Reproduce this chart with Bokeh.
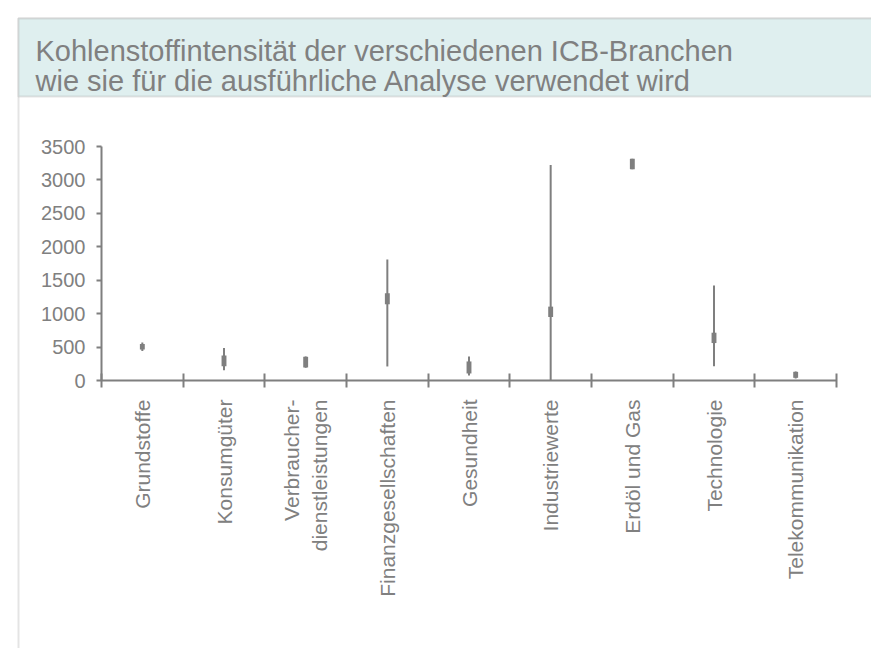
from bokeh.plotting import figure
from bokeh.models import Range1d, FixedTicker, BoxAnnotation, Label
from bokeh.embed import file_html
from bokeh.resources import INLINE

# ---- data ----
categories = ["Grundstoffe", "Konsumgüter", "Verbraucher-\ndienstleistungen",
              "Finanzgesellschaften", "Gesundheit", "Industriewerte",
              "Erdöl und Gas", "Technologie", "Telekommunikation"]
whisker_low = [440, 155, 190, 210, 75, 5, 3160, 215, 30]
box_low = [465, 215, 195, 1140, 105, 950, 3160, 560, 40]
box_high = [545, 375, 355, 1305, 285, 1105, 3315, 715, 130]
whisker_high = [570, 485, 360, 1810, 360, 3225, 3315, 1420, 135]
y_ticks = [0, 500, 1000, 1500, 2000, 2500, 3000, 3500]
y_max = 3500
title_lines = ["Kohlenstoffintensität der verschiedenen ICB-Branchen",
               "wie sie für die ausführliche Analyse verwendet wird"]

GREY = "#7f7f7f"
TEXT = "#808080"
FONT = "Liberation Sans"

W, H = 871, 648
# pixel layout of the data area inside the canvas
AX_L, AX_R, AX_T, AX_B = 101, 836, 146, 380
n = len(categories)
kx = n / (AX_R - AX_L)          # data units per px (x)
ky = y_max / (AX_B - AX_T)      # data units per px (y)

def px_x(px):
    return (px - AX_L) * kx

def px_y(py):
    return (AX_B - py) * ky

xs = [i + 0.5 for i in range(n)]

p = figure(width=W, height=H, output_backend="svg", toolbar_location=None,
           x_range=Range1d(px_x(0), px_x(W)), y_range=Range1d(px_y(H), px_y(0)),
           min_border=0)
p.outline_line_color = None
p.grid.visible = False
p.background_fill_color = "white"
p.border_fill_color = "white"

# outer frame and title band
p.add_layout(BoxAnnotation(left=px_x(18), right=px_x(W + 20), top=px_y(18), bottom=px_y(H + 20),
                           fill_alpha=0, line_color="#a6a6a6", line_width=2, level="underlay"))
p.add_layout(BoxAnnotation(left=px_x(18), right=px_x(W + 20), top=px_y(18), bottom=px_y(96),
                           fill_color="#dfefef", fill_alpha=1,
                           line_color="#a6a6a6", line_width=2, level="underlay"))
for i, t in enumerate(title_lines):
    p.add_layout(Label(x=px_x(35), y=px_y(50 + 30 * i), text=t, text_font=FONT,
                       text_font_size="29px", text_color=TEXT, text_baseline="alphabetic"))

# whiskers and boxes
p.segment(x0=xs, y0=whisker_low, x1=xs, y1=whisker_high, line_color=GREY, line_width=2)
p.vbar(x=xs, bottom=box_low, top=box_high, width=0.06, fill_color=GREY, line_color=None)

# axes (fixed at the data origin)
xa = p.xaxis[0]
xa.fixed_location = 0
xa.bounds = (0, n)
xa.ticker = FixedTicker(ticks=xs, minor_ticks=list(range(n + 1)))
xa.major_label_overrides = {x: c for x, c in zip(xs, categories)}
xa.major_label_orientation = 3.14159265 / 2
xa.major_tick_line_color = None
xa.minor_tick_in = 7
xa.minor_tick_out = 7
xa.minor_tick_line_color = GREY
xa.minor_tick_line_width = 2
xa.axis_line_color = GREY
xa.axis_line_width = 2
xa.major_label_standoff = 12
xa.major_label_text_font = FONT
xa.major_label_text_font_size = "21px"
xa.major_label_text_color = TEXT

ya = p.yaxis[0]
ya.fixed_location = 0
ya.bounds = (0, y_max)
ya.ticker = FixedTicker(ticks=y_ticks, minor_ticks=[])
ya.major_tick_in = 0
ya.major_tick_out = 5
ya.major_tick_line_color = GREY
ya.major_tick_line_width = 2
ya.axis_line_color = GREY
ya.axis_line_width = 2
ya.major_label_standoff = 11
ya.major_label_text_font = FONT
ya.major_label_text_font_size = "20px"
ya.major_label_text_color = TEXT

open("out.html", "w").write(file_html(p, INLINE))
